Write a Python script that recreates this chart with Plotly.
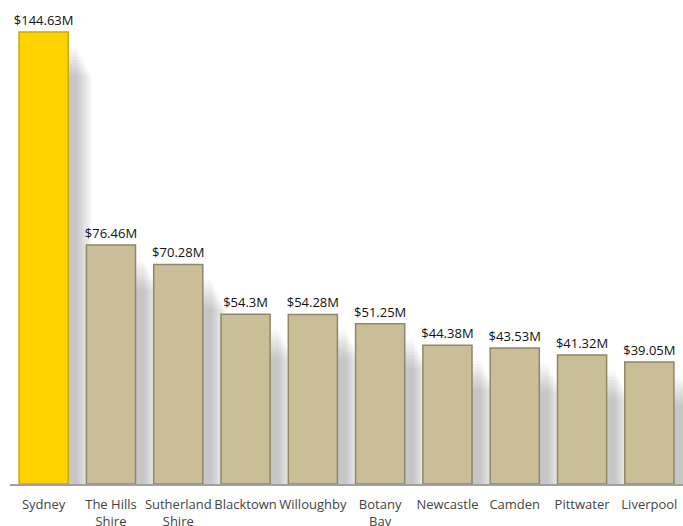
import plotly.graph_objects as go

categories = ["Sydney", "The Hills<br>Shire", "Sutherland<br>Shire", "Blacktown", "Willoughby",
              "Botany<br>Bay", "Newcastle", "Camden", "Pittwater", "Liverpool"]
values = [144.63, 76.46, 70.28, 54.3, 54.28, 51.25, 44.38, 43.53, 41.32, 39.05]
labels = ["$144.63M", "$76.46M", "$70.28M", "$54.3M", "$54.28M", "$51.25M",
          "$44.38M", "$43.53M", "$41.32M", "$39.05M"]

fill_colors = ["#FFD200"] + ["#C9BE97"] * (len(values) - 1)
line_colors = ["#C9A900"] + ["#8F8769"] * (len(values) - 1)

x = list(range(len(categories)))
bw = 0.73

fig = go.Figure()

# soft shadow approximation: many layered translucent bars offset right/down
n_layers = 10
for i in range(n_layers):
    grow = 0.025 * i
    dx = 0.13 + 0.012 * i
    fig.add_trace(go.Bar(
        x=x, y=[max(v - 5 - 1.0 * i, 0) for v in values],
        width=bw + grow, offset=-bw / 2 + dx - grow / 2,
        marker=dict(color="rgba(0,0,0,0.024)", line=dict(width=0)),
        hoverinfo="skip", showlegend=False,
    ))

fig.add_trace(go.Bar(
    x=x, y=values, width=bw, offset=-bw / 2,
    marker=dict(color=fill_colors, line=dict(color=line_colors, width=1.5)),
    text=labels, textposition="outside", cliponaxis=False,
    textfont=dict(family="Open Sans, sans-serif", size=13, color="#111111"),
    showlegend=False,
))

fig.update_layout(
    width=683, height=526,
    margin=dict(l=10, r=0, t=0, b=42),
    paper_bgcolor="white", plot_bgcolor="white",
    barmode="overlay",
    uniformtext=dict(minsize=13, mode="show"),
    xaxis=dict(
        tickmode="array", tickvals=x, ticktext=categories,
        range=[-0.5, len(categories) - 0.5],
        showgrid=False, zeroline=False, automargin=False,
        showline=True, linecolor="#A0A0A0", linewidth=2,
        ticks="", ticklabelstandoff=7,
        tickfont=dict(family="Open Sans, sans-serif", size=13, color="#444444"),
    ),
    yaxis=dict(
        range=[0, 154.9], visible=False, showgrid=False, zeroline=False,
        automargin=False,
    ),
)

fig.write_html("out.html")
